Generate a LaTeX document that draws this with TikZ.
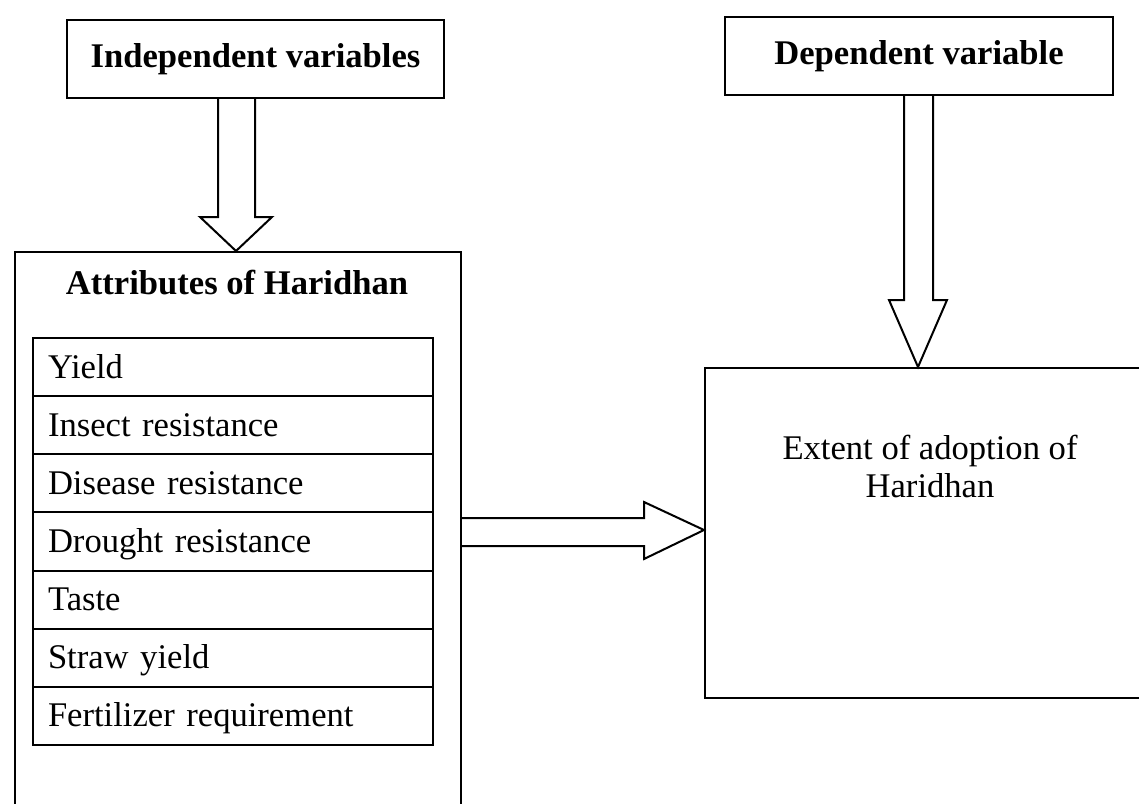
\documentclass[tikz,border=0pt]{standalone}
\usepackage{fontspec}
\setmainfont{Liberation Serif}
\usetikzlibrary{calc}
\begin{document}
\begin{tikzpicture}[x=0.5pt,y=-0.5pt,
  txt/.style={font=\fontsize{17.3}{19}\selectfont},
  boldtxt/.style={font=\fontsize{17.3}{19}\selectfont\bfseries},
  box/.style={draw, line width=1pt, inner sep=0pt},
  rowbox/.style={draw, line width=1pt, inner ysep=0pt, inner xsep=7.5pt,
    text width=185pt, align=left, minimum height=29.07pt,
    text height=12pt, text depth=1pt,
    font=\fontsize{17.3}{19}\selectfont},
  fat/.style={draw, line width=1pt, fill=white, line join=miter}]
\useasboundingbox (0,0) rectangle (1139,803);
\clip (0,0) rectangle (1139,803);
\fill[white] (0,0) rectangle (1139,803);
% top boxes
\node[box, boldtxt, minimum width=188.5pt, minimum height=39pt] (indep) at (255.5,59) {Independent variables};
\node[box, boldtxt, minimum width=194pt, minimum height=39pt] (dep) at (919,56) {Dependent variable};
% attributes outer box
\node[box, minimum width=223pt, minimum height=289pt] (attr) at (238,541) {};
\node[boldtxt] (attrtitle) at (237,283) {Attributes of Haridhan};
% rows
\foreach \i/\t in {1/Yield,2/Insect resistance,3/Disease resistance,4/Drought resistance,5/Taste,6/Straw yield,7/Fertilizer requirement}{
  \node[rowbox] (r\i) at (233,{338+58.14*(\i-0.5)}) {\t};
}
% extent box
\node[box, minimum width=232.5pt, minimum height=165pt] (extent) at (937.5,533) {};
\node[txt, align=center] (extlbl) at (930,466) {Extent of adoption of\\Haridhan};
% arrows
\draw[fat] (218,0 |- indep.south) -- (218,217) -- (200,217) -- (236,0 |- attr.north)
  -- (272,217) -- (255,217) -- (255,0 |- indep.south);
\draw[fat] (904,0 |- dep.south) -- (904,300) -- (889,300) -- (918,0 |- extent.north)
  -- (947,300) -- (933,300) -- (933,0 |- dep.south);
\draw[fat] (attr.east |- 0,518) -- (644,518) -- (644,502) -- (extent.west |- 0,530)
  -- (644,559) -- (644,546) -- (attr.east |- 0,546);
\end{tikzpicture}
\end{document}
